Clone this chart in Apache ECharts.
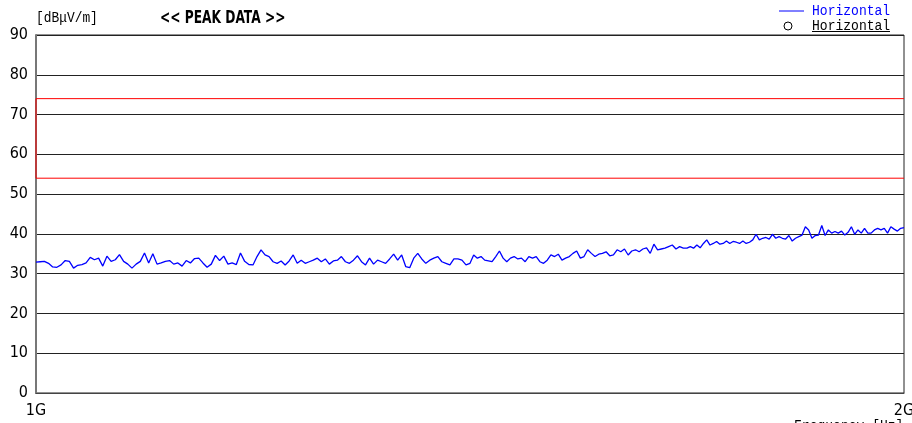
<!DOCTYPE html>
<html>
<head>
<meta charset="utf-8">
<script src="https://cdn.jsdelivr.net/npm/echarts@6/dist/echarts.min.js"></script>
<style>html,body{margin:0;padding:0;background:#fff}#c{width:912px;height:423px}</style>
</head>
<body>
<div id="c"></div>
<script>
// ---- data ----
const yTicks = [0, 10, 20, 30, 40, 50, 60, 70, 80, 90];
const xTickLabels = { 1000: '1G', 2000: '2G' };
const bandEdgesMHz = [1000, 1250, 1500, 1750, 2000];
const peakQ1 = [32.9, 33.0, 33.1, 32.6, 31.7, 31.6, 32.2, 33.3, 33.1, 31.4, 32.1, 32.3, 32.7, 34.1, 33.5, 33.9, 31.9, 34.4, 33.1, 33.5, 34.8, 33.1, 32.4, 31.4, 32.4, 33.1, 35.2, 32.7, 35.0, 32.4, 32.7, 33.1, 33.3, 32.4, 32.7, 31.9, 33.3, 32.7, 33.8, 33.9, 32.7, 31.6, 32.4, 34.6, 33.3, 34.4, 32.4, 32.7, 32.3, 35.2, 33.1, 32.3];
const peakQ2 = [32.2, 34.3, 36.0, 34.7, 34.3, 33.0, 32.6, 33.2, 32.2, 33.2, 34.7, 32.6, 33.4, 32.6, 33.0, 33.4, 33.9, 33.0, 33.7, 32.4, 33.2, 33.4, 34.3, 33.0, 32.6, 33.4, 34.5, 33.0, 32.2, 33.9, 32.4, 33.4, 33.0, 32.6, 33.7, 34.9, 33.4, 34.7, 31.8, 31.5, 33.9, 35.1, 33.7, 32.6, 33.4, 33.9, 34.3, 33.0, 32.6, 32.2, 33.7, 33.7, 33.4, 32.2];
const peakQ3 = [32.6, 34.7, 33.9, 34.3, 33.4, 33.2, 33.0, 34.3, 35.7, 33.9, 33.0, 33.9, 34.3, 33.7, 33.9, 33.0, 34.3, 33.9, 34.3, 33.0, 32.6, 33.4, 34.7, 34.3, 34.9, 33.4, 33.9, 34.3, 35.1, 35.7, 33.9, 34.3, 36.0, 35.1, 34.3, 34.9, 35.1, 35.5, 34.5, 34.7, 36.0, 35.5, 36.2, 34.7, 35.7, 36.0, 35.5, 36.2, 36.5, 35.1, 37.4, 36.0, 36.2, 36.4, 36.8, 37.2, 36.2, 36.8, 36.4];
const peakQ4 = [36.4, 36.8, 36.4, 37.2, 36.5, 37.6, 38.5, 37.2, 37.6, 38.1, 37.4, 37.6, 38.2, 37.6, 38.1, 37.9, 37.6, 38.2, 37.6, 37.9, 38.5, 39.9, 38.5, 38.9, 39.1, 38.7, 39.9, 38.9, 39.3, 38.9, 38.7, 39.6, 38.2, 38.9, 39.3, 39.7, 41.8, 41.0, 38.9, 39.6, 39.7, 42.1, 39.6, 41.0, 40.2, 40.6, 40.2, 40.7, 39.7, 40.4, 41.8, 39.9, 41.0, 40.2, 41.4, 40.2, 40.2, 41.0, 41.4, 41.0, 41.4, 40.2, 41.8, 41.2, 40.7, 41.4, 41.6];
const limitUpper = 74;
const limitLower = 54;
const seriesName = 'Horizontal';
const yUnit = '[dBμV/m]';
const titleText = '<< PEAK DATA >>';
const xUnit = 'Frequency [Hz]';

// ---- build series pairs ----
const quarters = [peakQ1, peakQ2, peakQ3, peakQ4];
const peakData = [];
quarters.forEach((arr, qi) => {
  const f0 = bandEdgesMHz[qi], f1 = bandEdgesMHz[qi + 1];
  const last = qi === quarters.length - 1;
  const n = arr.length;
  arr.forEach((v, i) => {
    const t = last ? i / (n - 1) : i / n;
    peakData.push([f0 + (f1 - f0) * t, v]);
  });
});
const fMin = bandEdgesMHz[0], fMax = bandEdgesMHz[bandEdgesMHz.length - 1];
const limitData = [[fMax, limitUpper], [fMin, limitUpper], [fMin, limitLower], [fMax, limitLower]];

const tickFont = '"DejaVu Sans Condensed", "Liberation Sans Narrow", sans-serif';
const monoFont = '"Liberation Mono", "DejaVu Sans Mono", monospace';

const chart = echarts.init(document.getElementById('c'), null, { renderer: 'canvas' });
chart.setOption({
  animation: false,
  backgroundColor: '#fff',
  grid: { left: 36, right: 8, top: 35, bottom: 30, show: true, borderColor: '#222', borderWidth: 1, containLabel: false, outerBoundsMode: 'none' },
  xAxis: {
    type: 'value', min: fMin, max: fMax, interval: fMax - fMin,
    axisLine: { show: true, lineStyle: { color: '#444', width: 1 } },
    axisTick: { show: false },
    splitLine: { show: false },
    axisLabel: {
      formatter: v => xTickLabels[v] || '',
      color: '#000', fontFamily: tickFont, fontSize: 16, margin: 10
    }
  },
  yAxis: {
    type: 'value', min: yTicks[0], max: yTicks[yTicks.length - 1], interval: 10,
    axisLine: { show: true, lineStyle: { color: '#777', width: 2 } },
    axisTick: { show: false },
    splitLine: { show: true, lineStyle: { color: '#222', width: 1 } },
    axisLabel: { color: '#000', fontFamily: tickFont, fontSize: 16, margin: 8 }
  },
  series: [
    {
      name: 'limit', type: 'line', data: limitData, showSymbol: false, silent: true,
      lineStyle: { color: '#ff0000', width: 1 }, z: 3
    },
    {
      name: seriesName, type: 'line', data: peakData, showSymbol: false,
      lineStyle: { color: '#0000ff', width: 1.3 }, z: 4
    }
  ],
  graphic: [
    { type: 'text', x: 36, y: 11, scaleX: 0.92, style: { text: yUnit, font: '14px ' + monoFont, fill: '#000' } },
    { type: 'text', x: 160, y: 10, scaleX: 0.8, style: { text: titleText, font: 'bold 17px ' + tickFont, fill: '#000' } },
    { type: 'line', shape: { x1: 779, y1: 11, x2: 804, y2: 11 }, style: { stroke: '#0000ff', lineWidth: 1 } },
    { type: 'text', x: 812, y: 4, scaleX: 0.93, style: { text: seriesName, font: '14px ' + monoFont, fill: '#0000ff' } },
    { type: 'circle', shape: { cx: 788, cy: 26, r: 4 }, style: { fill: '#fff', stroke: '#000', lineWidth: 1 } },
    { type: 'text', x: 812, y: 19, scaleX: 0.93, style: { text: seriesName, font: '14px ' + monoFont, fill: '#000' } },
    { type: 'line', shape: { x1: 812, y1: 31.5, x2: 890, y2: 31.5 }, style: { stroke: '#000', lineWidth: 1 } },
    { type: 'text', x: 794, y: 419, scaleX: 0.93, style: { text: xUnit, font: '14px ' + monoFont, fill: '#000' } }
  ]
});
</script>
</body>
</html>
